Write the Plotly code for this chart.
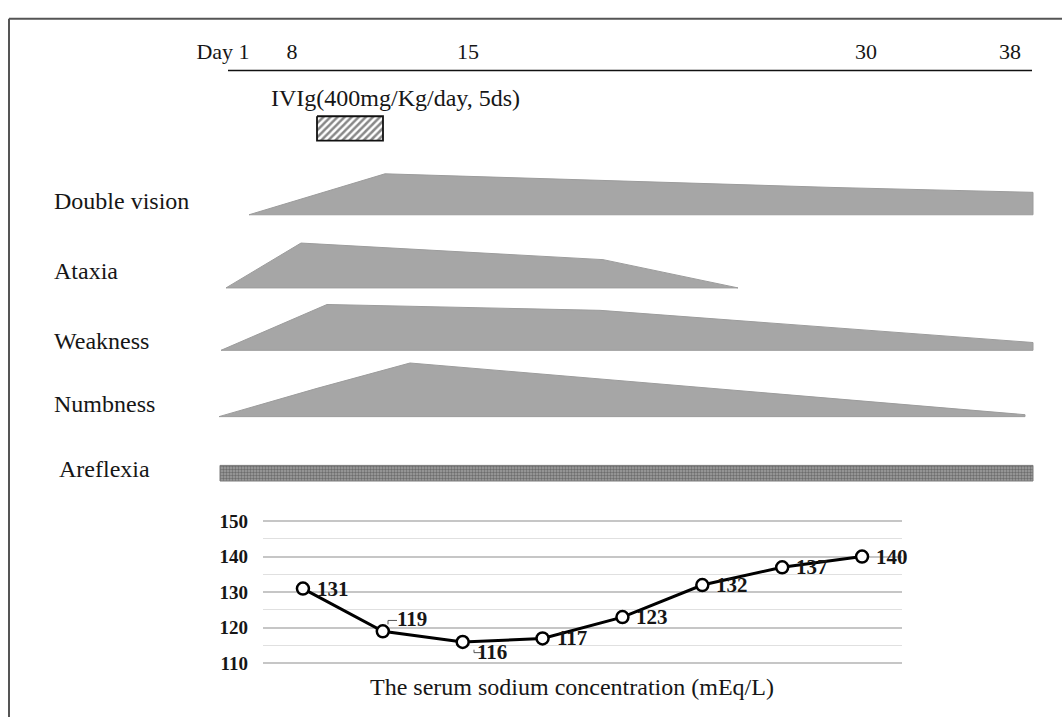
import plotly.graph_objects as go

# ---------------- data ----------------
day_labels = ["Day 1", "8", "15", "30", "38"]
day_label_pos = [223, 292, 468, 866, 1010]          # position along the timeline
timeline_span = [228, 1032]

ivig_label = "IVIg(400mg/Kg/day, 5ds)"
ivig_span = [317, 383]                              # timeline position of the 5-day infusion

symptoms = ["Double vision", "Ataxia", "Weakness", "Numbness"]
symptom_label_y = [197, 269, 340, 405]
symptom_baseline = [211, 286, 350, 418]
double_x = [249, 320, 385, 833, 1033]
double_h = [0, 22, 42, 28, 23]
ataxia_x = [226, 301, 603, 738]
ataxia_h = [0, 46, 29, 0]
weak_x = [221, 327, 600, 1033]
weak_h = [0, 47, 41, 8]
numb_x = [219, 317, 410, 1025]
numb_h = [0, 29, 55, 2]
areflexia_span = [220, 1033]

sodium_index = [0, 1, 2, 3, 4, 5, 6, 7]
sodium_values = [131, 119, 116, 117, 123, 132, 137, 140]
sodium_label_dy = [0, 12, -10, 0, 0, 0, 0, 0]
sodium_title = "The serum sodium concentration (mEq/L)"

W, H = 1062, 726
SERIF = "Liberation Serif, Times New Roman, serif"
GRAY = "#a6a6a6"
INK = "#161616"

fig = go.Figure()

# ---------------- symptom profiles ----------------
profiles = [(double_x, double_h), (ataxia_x, ataxia_h), (weak_x, weak_h), (numb_x, numb_h)]
for (xs, hs), base in zip(profiles, symptom_baseline):
    px = list(xs) + [xs[-1], xs[0]]
    py = [base - h for h in hs] + [base, base]
    fig.add_trace(go.Scatter(x=px, y=py, mode="lines", fill="toself",
                             fillcolor=GRAY, line=dict(color="#9c9c9c", width=1),
                             hoverinfo="skip", showlegend=False, xaxis="x", yaxis="y"))

# areflexia textured bar
a0, a1 = areflexia_span
fig.add_trace(go.Scatter(x=[a0, a1, a1, a0, a0], y=[468, 468, 484, 484, 468],
                         mode="lines", fill="toself", fillcolor="#8a8a8a",
                         fillpattern=dict(shape=".", fgcolor="#3a3a3a", bgcolor="#a0a0a0",
                                          size=3, solidity=0.5),
                         line=dict(color="#7a7a7a", width=1),
                         hoverinfo="skip", showlegend=False, xaxis="x", yaxis="y"))

# IVIg hatched box
i0, i1 = ivig_span
fig.add_trace(go.Scatter(x=[i0, i1, i1, i0, i0], y=[110, 110, 135, 135, 110],
                         mode="lines", fill="toself", fillcolor="white",
                         fillpattern=dict(shape="/", fgcolor="#111111", bgcolor="white",
                                          size=5, solidity=0.5),
                         line=dict(color="#111111", width=1.8),
                         hoverinfo="skip", showlegend=False, xaxis="x", yaxis="y"))

# timeline line
fig.add_trace(go.Scatter(x=timeline_span, y=[63, 63], mode="lines",
                         line=dict(color="#111111", width=1.6),
                         hoverinfo="skip", showlegend=False, xaxis="x", yaxis="y"))

# day labels
fig.add_trace(go.Scatter(x=day_label_pos, y=[46] * len(day_labels), mode="text",
                         text=day_labels, textposition="middle center",
                         textfont=dict(family=SERIF, size=22, color=INK),
                         hoverinfo="skip", showlegend=False, xaxis="x", yaxis="y"))

# ---------------- sodium chart ----------------
fig.add_trace(go.Scatter(x=sodium_index, y=sodium_values, mode="lines+markers",
                         line=dict(color="#000000", width=3),
                         marker=dict(symbol="circle", size=12, color="white",
                                     line=dict(color="#000000", width=2.5)),
                         hoverinfo="skip", showlegend=False, xaxis="x2", yaxis="y2",
                         cliponaxis=False))

# ---------------- text annotations ----------------
ann = []
for name, yy in zip(symptoms, symptom_label_y):
    ann.append(dict(x=52, y=yy, xref="x", yref="y", text=name, showarrow=False,
                    xanchor="left", yanchor="middle",
                    font=dict(family=SERIF, size=24, color=INK)))
ann.append(dict(x=57, y=472, xref="x", yref="y", text="Areflexia", showarrow=False,
                xanchor="left", yanchor="middle", font=dict(family=SERIF, size=24, color=INK)))
ann.append(dict(x=269, y=91, xref="x", yref="y", text=ivig_label, showarrow=False,
                xanchor="left", yanchor="middle", font=dict(family=SERIF, size=24, color=INK)))
ann.append(dict(x=572, y=695, xref="x", yref="y", text=sodium_title, showarrow=False,
                xanchor="center", yanchor="middle", font=dict(family=SERIF, size=24, color=INK)))
for xi, v, dy in zip(sodium_index, sodium_values, sodium_label_dy):
    ann.append(dict(x=xi, y=v, xref="x2", yref="y2", text=str(v), showarrow=False,
                    xanchor="left", yanchor="middle", xshift=12, yshift=dy,
                    font=dict(family=SERIF, size=21, color=INK, weight="bold")))

# sodium plot area in paper fractions (half-unit padding keeps edge gridlines visible)
x2d = [263 / W, 902 / W]
y2d = [1 - (671 + 1.8) / H, 1 - (525 - 1.8) / H]

fig.update_layout(
    width=W, height=H,
    margin=dict(l=0, r=0, t=0, b=0),
    paper_bgcolor="white", plot_bgcolor="rgba(0,0,0,0)",
    xaxis=dict(range=[0, W], domain=[0, 1], visible=False, fixedrange=True),
    yaxis=dict(range=[H, 0], domain=[0, 1], visible=False, fixedrange=True),
    xaxis2=dict(range=[-0.5, 7.5], domain=x2d, anchor="y2", showgrid=False,
                zeroline=False, showticklabels=False, showline=False, ticks=""),
    yaxis2=dict(range=[109.5, 150.5], domain=y2d, anchor="x2",
                tickvals=[110, 120, 130, 140, 150],
                showgrid=True, gridcolor="#c6c6c6", gridwidth=1.5, zeroline=False,
                showline=False, ticks="", ticklabelstandoff=14,
                tickfont=dict(family=SERIF, size=19, color=INK, weight="bold"),
                minor=dict(tickvals=[115, 125, 135, 145], showgrid=True,
                           gridcolor="#e0e0e0", gridwidth=1.2)),
    annotations=ann,
    shapes=[
        dict(type="line", xref="paper", yref="paper", x0=9 / W, x1=9 / W, y0=0, y1=1 - 10 / H,
             line=dict(color="#555555", width=2)),
        dict(type="line", xref="paper", yref="paper", x0=9 / W, x1=1, y0=1 - 10 / H, y1=1 - 10 / H,
             line=dict(color="#555555", width=2)),
        # small leader marks beside the 119 and 116 labels
        dict(type="path", xref="x", yref="y", path="M 388 631 L 388 627 L 397 627",
             line=dict(color="#555555", width=1)),
        dict(type="path", xref="x", yref="y", path="M 474 657 L 474 660 L 481 660",
             line=dict(color="#555555", width=1)),
    ],
)

fig.write_html("out.html", post_script="document.body.style.margin='0';",
               config={"displayModeBar": False})
